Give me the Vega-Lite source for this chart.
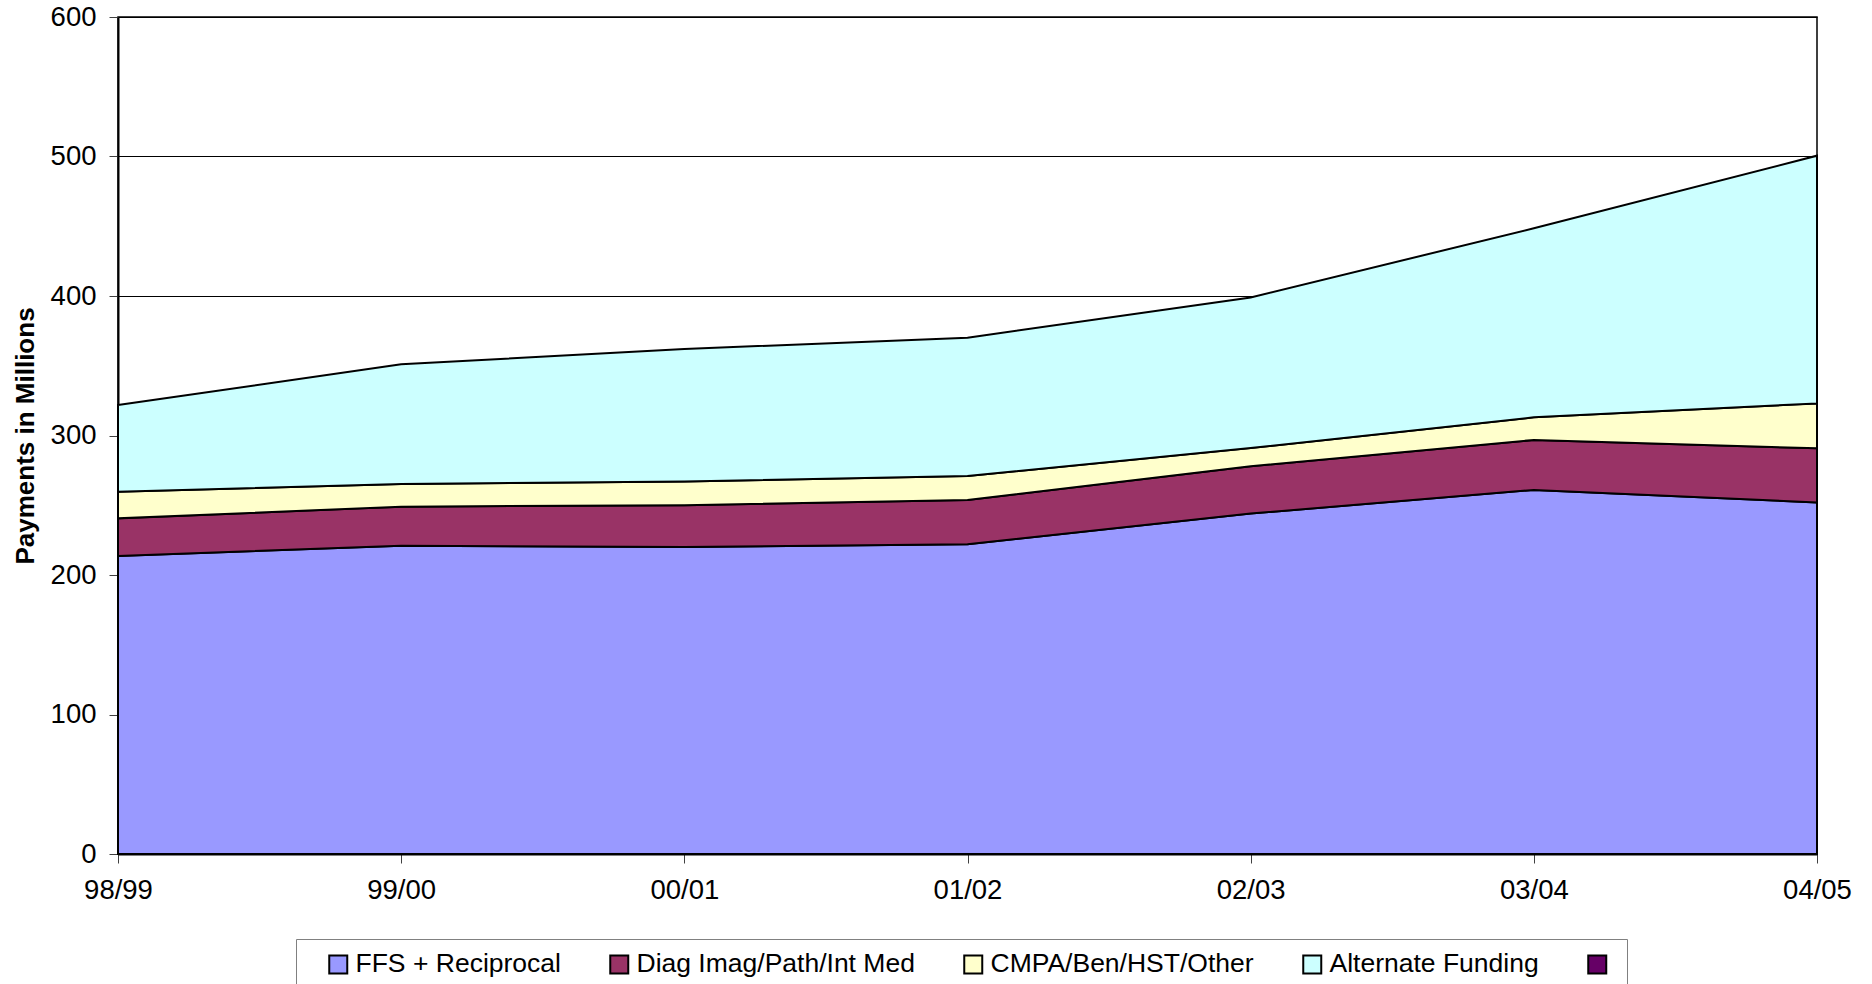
{
  "$schema": "https://vega.github.io/schema/vega-lite/v6.json",
  "autosize": {"type": "none"},
  "padding": {"left": 118, "top": 17, "right": 55, "bottom": 130},
  "width": 1699,
  "height": 837,
  "background": "white",
  "config": {
    "font": "Liberation Sans",
    "view": {"stroke": "black", "strokeWidth": 1.5}
  },
  "data": {
    "values": [
      {"year": "98/99", "series": "FFS + Reciprocal", "payments": 213.6},
      {"year": "99/00", "series": "FFS + Reciprocal", "payments": 221},
      {"year": "00/01", "series": "FFS + Reciprocal", "payments": 220},
      {"year": "01/02", "series": "FFS + Reciprocal", "payments": 222},
      {"year": "02/03", "series": "FFS + Reciprocal", "payments": 244},
      {"year": "03/04", "series": "FFS + Reciprocal", "payments": 261},
      {"year": "04/05", "series": "FFS + Reciprocal", "payments": 252},
      {"year": "98/99", "series": "Diag Imag/Path/Int Med", "payments": 27},
      {"year": "99/00", "series": "Diag Imag/Path/Int Med", "payments": 28},
      {"year": "00/01", "series": "Diag Imag/Path/Int Med", "payments": 30},
      {"year": "01/02", "series": "Diag Imag/Path/Int Med", "payments": 31.8},
      {"year": "02/03", "series": "Diag Imag/Path/Int Med", "payments": 34},
      {"year": "03/04", "series": "Diag Imag/Path/Int Med", "payments": 35.8},
      {"year": "04/05", "series": "Diag Imag/Path/Int Med", "payments": 38.8},
      {"year": "98/99", "series": "CMPA/Ben/HST/Other", "payments": 19.1},
      {"year": "99/00", "series": "CMPA/Ben/HST/Other", "payments": 16.2},
      {"year": "00/01", "series": "CMPA/Ben/HST/Other", "payments": 17},
      {"year": "01/02", "series": "CMPA/Ben/HST/Other", "payments": 17.2},
      {"year": "02/03", "series": "CMPA/Ben/HST/Other", "payments": 13},
      {"year": "03/04", "series": "CMPA/Ben/HST/Other", "payments": 16.2},
      {"year": "04/05", "series": "CMPA/Ben/HST/Other", "payments": 32.2},
      {"year": "98/99", "series": "Alternate Funding", "payments": 62.2},
      {"year": "99/00", "series": "Alternate Funding", "payments": 85.8},
      {"year": "00/01", "series": "Alternate Funding", "payments": 95},
      {"year": "01/02", "series": "Alternate Funding", "payments": 99.1},
      {"year": "02/03", "series": "Alternate Funding", "payments": 108},
      {"year": "03/04", "series": "Alternate Funding", "payments": 135.5},
      {"year": "04/05", "series": "Alternate Funding", "payments": 177.6}
    ]
  },
  "mark": {"type": "area", "stroke": "black", "strokeWidth": 2, "opacity": 1},
  "encoding": {
    "x": {
      "field": "year",
      "type": "ordinal",
      "sort": ["98/99", "99/00", "00/01", "01/02", "02/03", "03/04", "04/05"],
      "scale": {"type": "point", "padding": 0},
      "axis": {
        "title": null,
        "labelAngle": 0,
        "labelFontSize": 27.5,
        "labelColor": "black",
        "labelPadding": 13,
        "tickSize": 9,
        "tickColor": "#404040",
        "domainColor": "black",
        "domainWidth": 2,
        "grid": false
      }
    },
    "y": {
      "field": "payments",
      "type": "quantitative",
      "stack": "zero",
      "scale": {"domain": [0, 600], "nice": false},
      "axis": {
        "title": "Payments in Millions",
        "titleFontSize": 26,
        "titleFontWeight": "bold",
        "titleColor": "black",
        "titlePadding": 12,
        "values": [0, 100, 200, 300, 400, 500, 600],
        "labelFontSize": 27.5,
        "labelColor": "black",
        "labelPadding": 13,
        "tickSize": 9,
        "tickColor": "#404040",
        "domainColor": "black",
        "domainWidth": 2,
        "grid": true,
        "gridColor": "black",
        "gridWidth": 1,
        "gridOpacity": 1
      }
    },
    "color": {
      "field": "series",
      "type": "nominal",
      "scale": {
        "domain": ["FFS + Reciprocal", "Diag Imag/Path/Int Med", "CMPA/Ben/HST/Other", "Alternate Funding", " "],
        "range": ["#9999FF", "#993366", "#FFFFCC", "#CCFFFF", "#660066"]
      },
      "legend": {
        "title": null,
        "orient": "none",
        "legendX": 178,
        "legendY": 922,
        "direction": "horizontal",
        "fillColor": "white",
        "strokeColor": "#808080",
        "padding": 12,
        "symbolOffset": 17,
        "symbolType": "square",
        "symbolSize": 324,
        "symbolStrokeColor": "black",
        "symbolStrokeWidth": 2,
        "symbolOpacity": 1,
        "labelFontSize": 26.5,
        "labelColor": "black",
        "labelLimit": 500,
        "labelOffset": 4,
        "columnPadding": 28
      }
    },
    "order": {"field": "series", "sort": "descending"}
  }
}
